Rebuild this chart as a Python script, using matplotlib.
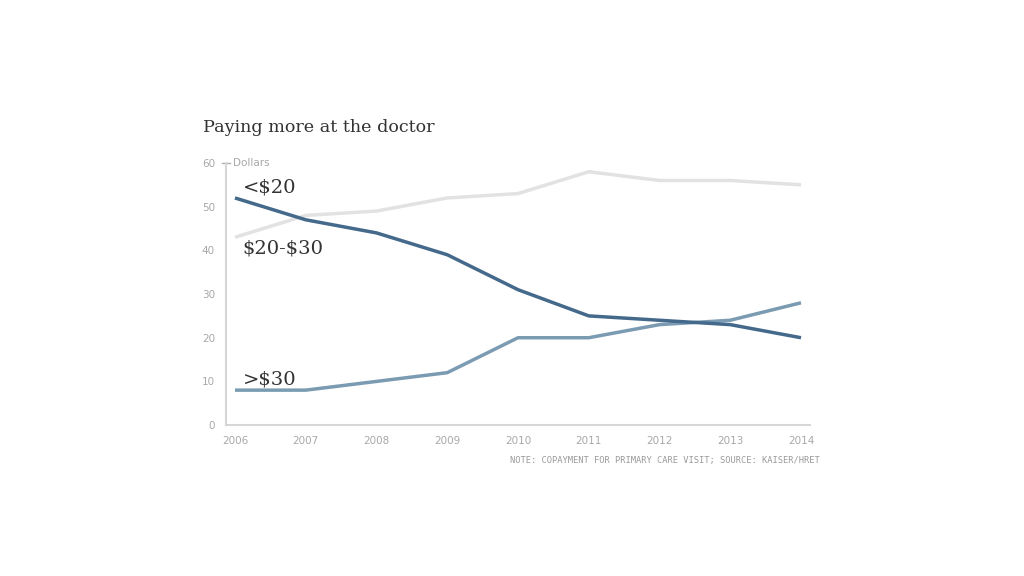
import matplotlib.pyplot as plt
import matplotlib.transforms as mtransforms

years = [2006, 2007, 2008, 2009, 2010, 2011, 2012, 2013, 2014]
under_20 = [52, 47, 44, 39, 31, 25, 24, 23, 20]
mid_20_30 = [43, 48, 49, 52, 53, 58, 56, 56, 55]
over_30 = [8, 8, 10, 12, 20, 20, 23, 24, 28]
yticks = [0, 10, 20, 30, 40, 50, 60]

fig = plt.figure(figsize=(10.24, 5.76), dpi=100)
ax = fig.add_axes([0.2207, 0.262, 0.5703, 0.455])

ax.plot(years, mid_20_30, color='#e2e2e2', lw=2.5, solid_capstyle='butt')
ax.plot(years, over_30, color='#7b9bb2', lw=2.5, solid_capstyle='butt')
ax.plot(years, under_20, color='#44698b', lw=2.5, solid_capstyle='butt')

ax.set_xlim(2005.873, 2014.127)
ax.set_ylim(0, 60)
ax.set_xticks(years)
ax.set_yticks(yticks)
ax.tick_params(length=0, colors='#a8a8a8', labelsize=7.5)
ax.tick_params(axis='x', pad=8)
ax.tick_params(axis='y', pad=8)
for lab in ax.get_xticklabels() + ax.get_yticklabels():
    lab.set_family('Liberation Sans Narrow')

for s in ['top', 'right']:
    ax.spines[s].set_visible(False)
for s in ['left', 'bottom']:
    ax.spines[s].set_color('#d6d6d6')
    ax.spines[s].set_linewidth(1.5)

# little tick at the top of the y axis + unit
tr = mtransforms.blended_transform_factory(ax.transAxes, ax.transData)
ax.plot([-0.007, 0.007], [60, 60], color='#b0b0b0', lw=1, transform=tr, clip_on=False)
ax.text(0.012, 60, 'Dollars', transform=tr, va='center', ha='left',
        fontsize=7.5, color='#a8a8a8', family='Liberation Sans Narrow')

lab_kw = dict(fontsize=14, color='#333333', family='DejaVu Serif', va='center', ha='left')
ax.text(2006.11, 54.5, r'<\$20', **lab_kw)
ax.text(2006.11, 40.5, r'\$20-\$30', **lab_kw)
ax.text(2006.11, 10.5, r'>\$30', **lab_kw)

fig.text(0.198, 0.778, 'Paying more at the doctor', fontsize=12.6, color='#333333',
         family='DejaVu Serif', va='center', ha='left')
fig.text(0.801, 0.2, 'NOTE: COPAYMENT FOR PRIMARY CARE VISIT; SOURCE: KAISER/HRET',
         fontsize=6.3, color='#9a9a9a', family='DejaVu Sans Mono', va='center', ha='right')

fig.savefig('out.png', dpi=100)
